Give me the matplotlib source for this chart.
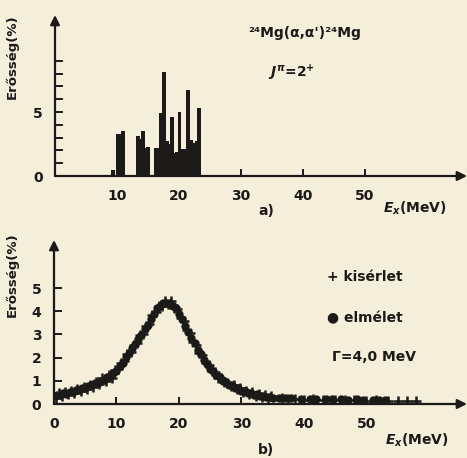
import numpy as np
import matplotlib.pyplot as plt

plt.rcParams['font.family'] = ['Liberation Sans Narrow', 'DejaVu Sans']
plt.rcParams['font.weight'] = 'bold'

# a) vonalak: energia (MeV) es erosseg (%)
vonal_E = [9.4, 10.2, 10.7, 11.0, 13.4, 13.8, 14.2, 14.5, 15.0, 16.3, 16.7, 17.0, 17.6, 18.1, 18.5,
           18.9, 19.3, 19.7, 20.1, 20.6, 21.0, 21.4, 21.9, 22.4, 22.8, 23.2]
vonal_h = [0.5, 3.3, 3.3, 3.5, 3.1, 2.9, 3.5, 2.2, 2.3, 2.2, 2.2, 4.95, 8.15, 2.7, 2.5,
           4.6, 1.8, 1.9, 5.0, 2.1, 2.1, 6.7, 2.8, 2.6, 2.7, 5.3]

# b) elmelet (pontok)
elm_E = [0, 0.5, 1, 1.5, 2, 2.5, 3, 3.5, 4, 4.5, 5, 5.5, 6, 6.5, 7, 7.5, 8, 8.5, 9, 9.5,
         10, 10.5, 11, 11.5, 12, 12.5, 13, 13.5, 14, 14.5, 15, 15.5, 16, 16.5, 17, 17.5,
         18, 18.5, 19, 19.5, 20, 20.5, 21, 21.5, 22, 22.5, 23, 23.5, 24, 24.5, 25, 25.5,
         26, 26.5, 27, 27.5, 28, 28.5, 29, 29.5, 30, 30.5, 31, 31.5, 32, 32.5, 33, 33.5,
         34, 34.5, 35, 36, 37, 38, 39.5, 41, 42, 43.5, 44.5, 46, 47, 48.5, 49.5, 51, 52, 53]
elm_h = [0.33, 0.40, 0.39, 0.46, 0.45, 0.52, 0.52, 0.60, 0.60, 0.69, 0.70, 0.79, 0.80,
         0.89, 0.91, 1.01, 1.03, 1.15, 1.20, 1.34, 1.43, 1.64, 1.78, 2.02, 2.18, 2.42,
         2.58, 2.82, 2.98, 3.22, 3.40, 3.68, 3.88, 4.12, 4.23, 4.36, 4.36, 4.36, 4.23,
         4.12, 3.88, 3.67, 3.36, 3.12, 2.83, 2.62, 2.33, 2.14, 1.88, 1.74, 1.53, 1.42,
         1.23, 1.15, 1.00, 0.95, 0.83, 0.80, 0.70, 0.68, 0.58, 0.57, 0.48, 0.48, 0.40,
         0.41, 0.34, 0.36, 0.30, 0.32, 0.27, 0.26, 0.24, 0.25, 0.22, 0.23, 0.21, 0.22,
         0.20, 0.21, 0.19, 0.20, 0.18, 0.19, 0.18, 0.17]

# b) kiserlet (keresztek)
kis_E = [0.25, 0.75, 1.25, 1.75, 2.25, 2.75, 3.25, 3.75, 4.25, 4.75, 5.25, 5.75, 6.25,
         6.75, 7.25, 7.75, 8.25, 8.75, 9.25, 9.75, 10.25, 10.75, 11.25, 11.75, 12.25,
         12.75, 13.25, 13.75, 14.25, 14.75, 15.25, 15.75, 16.25, 16.75, 17.25, 17.75,
         18.25, 18.75, 19.25, 19.75, 20.25, 20.75, 21.25, 21.75, 22.25, 22.75, 23.25,
         23.75, 24.25, 24.75, 25.25, 25.75, 26.25, 26.75, 27.25, 27.75, 28.25, 28.75,
         29.25, 29.75, 30.25, 30.75, 31.25, 31.75, 32.25, 32.75, 33.25, 33.75, 34.25,
         34.75, 36.5, 37.5, 38.5, 40, 41.5, 43, 45, 46.5, 48, 50, 51.5, 53.5, 55, 56.5, 58]
kis_h = [0.28, 0.47, 0.36, 0.52, 0.42, 0.58, 0.48, 0.66, 0.56, 0.74, 0.66, 0.84, 0.74,
         0.96, 0.86, 1.10, 0.98, 1.26, 1.14, 1.45, 1.50, 1.78, 1.84, 2.16, 2.24, 2.56,
         2.62, 2.96, 3.02, 3.36, 3.46, 3.82, 3.96, 4.24, 4.24, 4.44, 4.30, 4.42, 4.14,
         4.08, 3.72, 3.58, 3.20, 3.04, 2.68, 2.56, 2.18, 2.10, 1.76, 1.70, 1.44, 1.40,
         1.14, 1.12, 0.94, 0.92, 0.76, 0.80, 0.64, 0.70, 0.52, 0.58, 0.44, 0.50, 0.36,
         0.44, 0.32, 0.38, 0.26, 0.33, 0.24, 0.20, 0.22, 0.18, 0.20, 0.16, 0.18, 0.16,
         0.17, 0.15, 0.16, 0.15, 0.14, 0.15, 0.14]

papir = '#f4eedb'
fekete = '#1c1a18'

fig = plt.figure(figsize=(4.67, 4.58), dpi=100, facecolor=papir)


def tengely(ax, xmax, ymax):
    ax.set_facecolor('none')
    for s in ax.spines.values():
        s.set_visible(False)
    ax.set_xlim(0, xmax)
    ax.set_ylim(0, ymax)
    ax.annotate('', xy=(1, 0), xytext=(0, 0), xycoords='axes fraction',
                arrowprops=dict(arrowstyle='-|>', lw=1.6, color=fekete, mutation_scale=14,
                                shrinkA=0, shrinkB=0))
    ax.annotate('', xy=(0, 1), xytext=(0, 0), xycoords='axes fraction',
                arrowprops=dict(arrowstyle='-|>', lw=1.6, color=fekete, mutation_scale=14,
                                shrinkA=0, shrinkB=0))
    ax.tick_params(direction='in', width=1.4, color=fekete, labelcolor=fekete, labelsize=10)
    ax.tick_params(axis='x', length=5, pad=9)
    ax.tick_params(axis='y', length=6, pad=9)


def szoveg(x, y, s, **kw):
    # pixel koordinatak a bal felso saroktol
    fig.text(x / 467, 1 - y / 458, s, color=fekete, va='center', **kw)


# a) panel
ax1 = fig.add_axes([55 / 467, 282 / 458, 412 / 467, 161 / 458])
tengely(ax1, 66.45, 12.58)
ax1.bar(vonal_E, vonal_h, width=0.6, color=fekete, linewidth=0)
ax1.set_xticks([10, 20, 30, 40, 50])
ax1.set_yticks(range(0, 10))
ax1.set_yticklabels(['0', '', '', '', '', '5', '', '', '', ''])

szoveg(248, 33, '²⁴Mg(α,α\')²⁴Mg', fontsize=10)
szoveg(268, 73, r'$J^{\pi}$=2$^{+}$', fontsize=10)
szoveg(258, 211, 'a)', fontsize=10)
szoveg(383, 208, r'$E_x$(MeV)', fontsize=10)
szoveg(12, 57, 'Erősség(%)', rotation=90, fontsize=9.5, ha='center')

# b) panel
ax2 = fig.add_axes([54 / 467, 54 / 458, 413 / 467, 164 / 458])
tengely(ax2, 66.1, 7.07)
ax2.plot(elm_E, elm_h, 'o', ms=6, color=fekete, mew=0)
ax2.plot(kis_E, kis_h, '+', ms=6.5, color=fekete, mew=1.8)
ax2.set_xticks([0, 10, 20, 30, 40, 50])
ax2.set_yticks(range(0, 6))

szoveg(327, 277, '+ kisérlet', fontsize=10)
szoveg(327, 318, '● elmélet', fontsize=10)
szoveg(332, 357, 'Γ=4,0 MeV', fontsize=10)
szoveg(258, 450, 'b)', fontsize=10)
szoveg(385, 440, r'$E_x$(MeV)', fontsize=10)
szoveg(12, 275, 'Erősség(%)', rotation=90, fontsize=9.5, ha='center')

fig.savefig('out.png', dpi=100, facecolor=papir)
